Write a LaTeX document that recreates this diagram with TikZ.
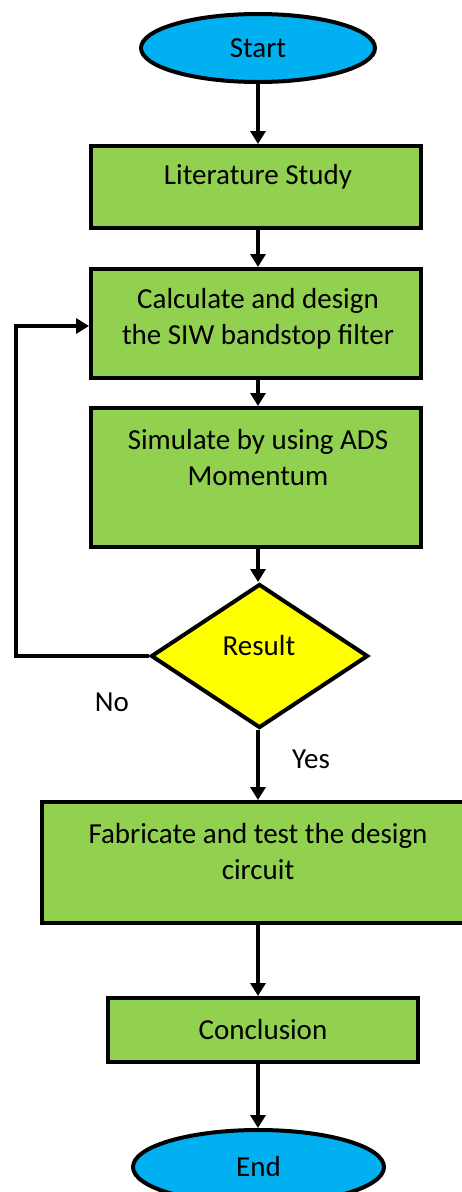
\documentclass[tikz,border=0pt]{standalone}
\usepackage{fontspec}
\setmainfont{Carlito}
\usetikzlibrary{shapes.geometric,arrows.meta}
\definecolor{cblue}{HTML}{00B0F0}
\definecolor{cgreen}{HTML}{92D050}
\definecolor{cyell}{HTML}{FFFF00}
\begin{document}
\begin{tikzpicture}[x=1pt,y=-1pt,
  box/.style={draw=black,line width=4pt,fill=cgreen,rectangle,inner sep=0pt},
  term/.style={draw=black,line width=4pt,fill=cblue,ellipse,inner sep=0pt},
  dec/.style={draw=black,line width=4pt,fill=cyell,diamond,inner sep=0pt,minimum width=217pt,minimum height=144pt},
  txt/.style={font=\fontsize{29}{36}\selectfont,align=center,inner sep=0pt},
  arr/.style={line width=4pt,-{Triangle[length=13pt,width=15pt]}}]
\useasboundingbox (0,0) rectangle (462,1192);
\node[term,minimum width=234pt,minimum height=68pt] (start) at (258,48) {};
\node[txt] (startt) at (258,48) {Start};
\node[box,minimum width=330pt,minimum height=82pt] (lit) at (256,187) {};
\node[txt] (litt) at (258,177) {Literature Study};
\node[box,minimum width=330pt,minimum height=109pt] (calc) at (256,323.5) {};
\node[txt] (calct) at (258,318.5) {Calculate and design\\the SIW bandstop filter};
\node[box,minimum width=330pt,minimum height=139pt] (sim) at (256,477.5) {};
\node[txt] (simt) at (258,458) {Simulate by using ADS\\Momentum};
\node[dec] (res) at (259.5,656) {};
\node[txt] (rest) at (259,646) {Result};
\node[txt] (no) at (112,702) {No};
\node[txt] (yes) at (311,759) {Yes};
\node[box,minimum width=432pt,minimum height=121pt] (fab) at (258,862.5) {};
\node[txt] (fabt) at (258,852) {Fabricate and test the design\\circuit};
\node[box,minimum width=310pt,minimum height=64pt] (conc) at (263,1030) {};
\node[txt] (conct) at (263,1030) {Conclusion};
\node[term,minimum width=251pt,minimum height=74pt] (end) at (258.5,1167) {};
\node[txt] (endt) at (258.5,1167) {End};
\coordinate (lt) at (16,656);
\coordinate (lb) at (16,326);
\draw[arr] (start.south) -- (lit.north -| start.south);
\draw[arr] (lit.south -| start.south) -- (calc.north -| start.south);
\draw[arr] (calc.south -| start.south) -- (sim.north -| start.south);
\draw[arr] (sim.south -| start.south) -- (res.north -| start.south);
\draw[arr] (res.south -| start.south) -- (fab.north -| start.south);
\draw[arr] (fab.south -| start.south) -- (conc.north -| start.south);
\draw[arr] (conc.south -| start.south) -- (end.north -| start.south);
\draw[arr] (res.west) -- (lt) -- (lb) -- (calc.west |- lb);
\end{tikzpicture}
\end{document}
